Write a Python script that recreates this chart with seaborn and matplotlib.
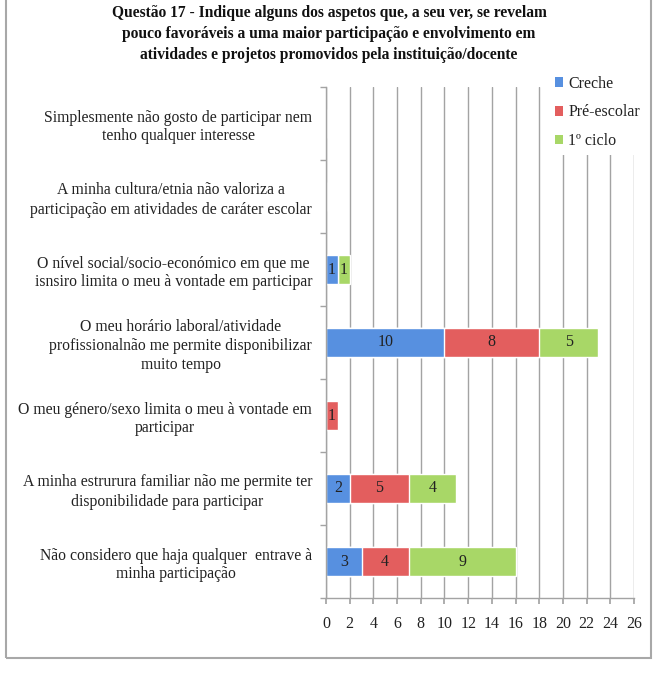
#!/usr/bin/env python3
"""
Questão 17 - stacked horizontal bars of obstacles to participation, by school level.
"""

import matplotlib

matplotlib.use("Agg")

import matplotlib.pyplot as plt
import numpy as np
import pandas as pd
import seaborn as sns
from matplotlib.patches import Patch, Rectangle

categories = [
    "Simplesmente não gosto de participar nem\ntenho qualquer interesse",
    "A minha cultura/etnia não valoriza a\nparticipação em atividades de caráter escolar",
    "O nível social/socio-económico em que me\nisnsiro limita o meu à vontade em participar",
    "O meu horário laboral/atividade\nprofissionalnão me permite disponibilizar\nmuito tempo",
    "O meu género/sexo limita o meu à vontade em\nparticipar",
    "A minha estrurura familiar não me permite ter\ndisponibilidade para participar",
    "Não considero que haja qualquer  entrave à\nminha participação",
]
creche = [0, 0, 1, 10, 0, 2, 3]
pre_escolar = [0, 0, 0, 8, 1, 5, 4]
primeiro_ciclo = [0, 0, 1, 5, 0, 4, 9]

series_names = ["Creche", "Pré-escolar", "1º ciclo"]
colors = ["#5790E0", "#E35E5E", "#A8D767"]
x_ticks = list(range(0, 27, 2))

title = (
    "Questão 17 - Indique alguns dos aspetos que, a seu ver, se revelam\n"
    "pouco favoráveis a uma maior participação e envolvimento em\n"
    "atividades e projetos promovidos pela instituição/docente"
)

sns.set_theme(style="white")
plt.rcParams["font.family"] = ["Liberation Serif", "DejaVu Serif"]

df = pd.DataFrame(
    {
        "category": categories,
        "Creche": creche,
        "Pré-escolar": pre_escolar,
        "1º ciclo": primeiro_ciclo,
    }
)
df["cum1"] = df["Creche"]
df["cum2"] = df["Creche"] + df["Pré-escolar"]
df["cum3"] = df["cum2"] + df["1º ciclo"]

fig = plt.figure(figsize=(6.58, 6.73), dpi=100)
ax = fig.add_axes([326 / 658, 1 - 598 / 673, (634 - 326) / 658, (598 - 87) / 673])

grid_color = "#a3a3a3"
text_color = "#222222"
font_size = 11.3

ax.set_axisbelow(True)
ax.xaxis.grid(True, color=grid_color, linewidth=1.0)

# overlay cumulative totals, widest first
for col, color in zip(["cum3", "cum2", "cum1"], colors[::-1]):
    sns.barplot(
        data=df,
        x=col,
        y="category",
        order=categories,
        color=color,
        width=0.4,
        orient="h",
        saturation=1,
        errorbar=None,
        ax=ax,
    )

# segment value labels
for i, row in df.iterrows():
    left = 0
    for name in series_names:
        v = row[name]
        if v > 0:
            ax.text(left + v / 2, i, str(v), ha="center", va="center",
                    fontsize=11.5, color=text_color)
        left += v

ax.set_xlim(0, 26)
ax.set_ylim(len(categories) - 0.5, -0.5)
ax.set_xticks(x_ticks)
ax.set_xlabel("")
ax.set_ylabel("")

ax.set_yticks(np.arange(-0.5, len(categories), 1), minor=True)
ax.tick_params(axis="y", which="major", length=0, pad=10, labelsize=font_size,
               labelcolor=text_color)
ax.tick_params(axis="y", which="minor", length=4, color=grid_color, direction="out",
               left=True)
ax.tick_params(axis="x", which="major", length=4, color=grid_color, direction="out",
               pad=9, labelsize=11.5, labelcolor=text_color, bottom=True)
for lbl in ax.get_yticklabels():
    lbl.set_multialignment("center")
    lbl.set_linespacing(1.25)

for side in ["top", "right"]:
    ax.spines[side].set_visible(False)
for side in ["left", "bottom"]:
    ax.spines[side].set_color(grid_color)
    ax.spines[side].set_linewidth(1.0)

handles = [Patch(facecolor=c, edgecolor="none") for c in colors]
leg = fig.legend(
    handles,
    series_names,
    loc="upper left",
    bbox_to_anchor=(549 / 658, 1 - 70 / 673),
    frameon=True,
    fontsize=11.5,
    handlelength=0.55,
    handleheight=0.55,
    handletextpad=0.3,
    labelspacing=0.8,
    borderpad=0.35,
    borderaxespad=0,
)
leg.get_frame().set_facecolor("white")
leg.get_frame().set_edgecolor("none")
leg.get_frame().set_alpha(1)
for t in leg.get_texts():
    t.set_color(text_color)

fig.text(0.5, 1 - 5 / 673, title, ha="center", va="top", fontsize=11.2,
         fontweight="bold", linespacing=1.42, color="#111111")

fig.patches.append(
    Rectangle((6 / 658, 1 - 658 / 673), (651 - 6) / 658, 1.0,
              transform=fig.transFigure, fill=False, edgecolor="#a8a8a8",
              linewidth=1.5, clip_on=False)
)

fig.savefig("out.png", dpi=100)
